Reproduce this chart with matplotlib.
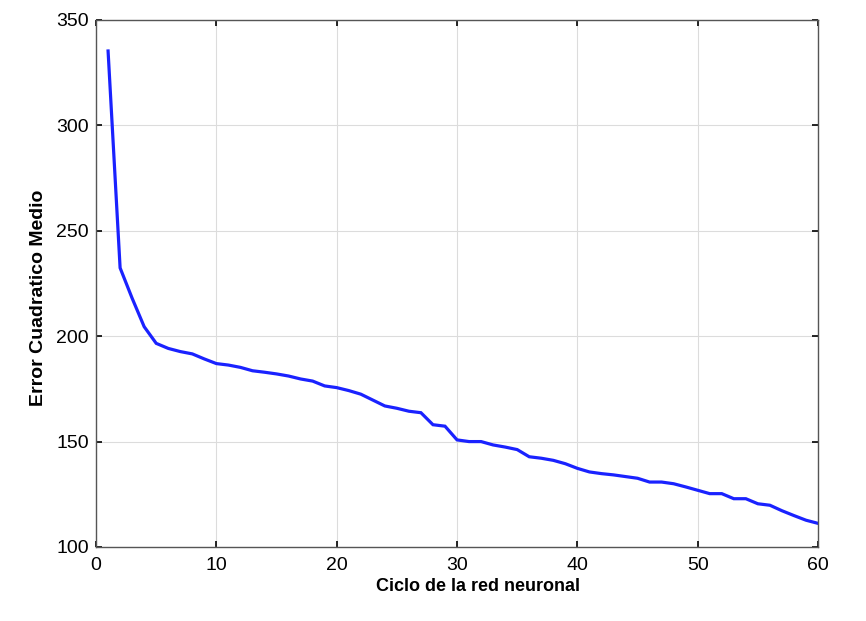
import matplotlib
matplotlib.use("Agg")
import matplotlib.pyplot as plt

# ciclo de entrenamiento y error cuadratico medio
ciclo = list(range(1, 61))
error = [335.3, 232.4, 218.0, 204.5, 196.6, 194.2, 192.7, 191.6, 189.2, 187.0,
         186.3, 185.2, 183.6, 182.9, 182.1, 181.1, 179.7, 178.7, 176.4, 175.6,
         174.2, 172.5, 169.7, 166.9, 165.8, 164.4, 163.7, 158.0, 157.3, 150.8,
         150.0, 150.0, 148.4, 147.4, 146.2, 142.8, 142.1, 141.1, 139.5, 137.3,
         135.6, 134.8, 134.2, 133.4, 132.6, 130.8, 130.8, 130.0, 128.5, 126.9,
         125.3, 125.3, 122.9, 122.9, 120.5, 119.8, 117.2, 114.9, 112.7, 111.2]

xticks = [0, 10, 20, 30, 40, 50, 60]
yticks = [100, 150, 200, 250, 300, 350]

plt.rcParams['font.family'] = ['Liberation Sans', 'DejaVu Sans']

fig = plt.figure(figsize=(8.66, 6.21), dpi=100)
ax = fig.add_axes([0.1109, 0.1192, 0.8337, 0.8486])

ax.plot(ciclo, error, color='#1a22ff', linewidth=2.3, solid_joinstyle='miter')

ax.set_xlim(0, 60)
ax.set_ylim(100, 350)
ax.set_xticks(xticks)
ax.set_yticks(yticks)
ax.grid(True, color='#dcdcdc', linewidth=0.8)
ax.tick_params(direction='in', length=4, width=1.2, color='black',
               top=True, right=True, labelsize=14)
ax.tick_params(axis='x', pad=7)
ax.tick_params(axis='y', pad=5)

for s in ax.spines.values():
    s.set_color('#555555')
    s.set_linewidth(1.0)

ax.set_xlabel('Ciclo de la red neuronal', fontsize=13, fontweight='bold')
ax.set_ylabel('Error Cuadratico Medio', fontsize=14, fontweight='bold')
ax.xaxis.set_label_coords(0.529, -0.059)
ax.yaxis.set_label_coords(-0.068, 0.4725)

fig.savefig('out.png', dpi=100)
